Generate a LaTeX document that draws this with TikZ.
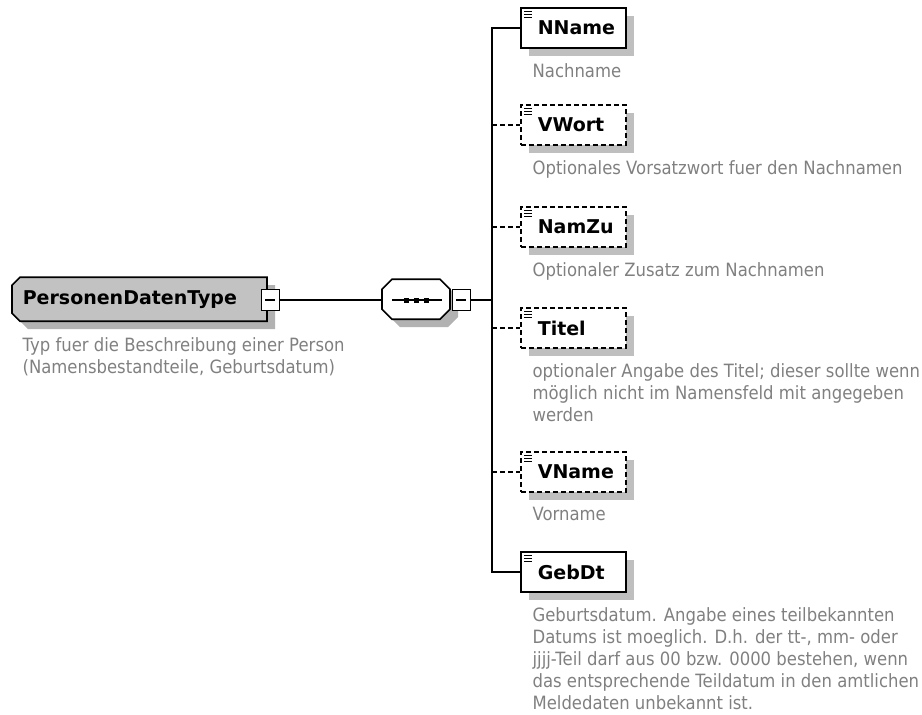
\documentclass[tikz,border=0pt]{standalone}
\usepackage{fontspec}
\setmainfont{DejaVu Sans}
\newfontfamily\docfont[FakeStretch=0.9]{DejaVu Sans}
\usetikzlibrary{positioning, shadows, backgrounds}

\begin{document}
\begin{tikzpicture}[x=1pt, y=-1pt]

\useasboundingbox (0,0) rectangle (922,715);

% styles
\pgfkeys{/tikz/every path/.style={line width=1.2pt}} % connectors
\pgfkeys{/box/.style={line width=1.6pt, inner sep=0, node font=\bfseries\fontsize{19}{22}\selectfont}} % base style for boxes
\pgfkeys{/shade/.style={drop shadow={shadow xshift=8pt, shadow yshift=-8pt, fill=black!25, opacity=1}}} % grey shadow
\pgfkeys{/elem/.style={/box, /shade, draw, rectangle, fill=white, anchor=west, minimum width=105pt, minimum height=40pt, text width=105pt, align=left, execute at begin node=\hspace*{17pt}}} % required element
\pgfkeys{/optelem/.style={/elem, dash pattern=on 5pt off 3pt}} % optional element
\pgfkeys{/elem link/.style={}} % branch to required element
\pgfkeys{/optelem link/.style={dash pattern=on 5pt off 3pt}} % branch to optional element
\pgfkeys{/ctype/.style={/box, rectangle, anchor=west, minimum width=255pt, minimum height=44pt, text width=235pt, inner xsep=10pt, align=left}} % complex type
\pgfkeys{/seqbox/.style={/box, rectangle, anchor=west, minimum width=68pt, minimum height=40pt}} % sequence
\pgfkeys{/frame/.style={draw, line width=1.6pt}} % outline of type and sequence
\pgfkeys{/shadowfill/.style={fill=black!30}} % shadow of type and sequence
\pgfkeys{/minus/.style={draw, line width=1.2pt, fill=white, rectangle, minimum width=18pt, minimum height=21pt, inner sep=0}} % collapse button
\pgfkeys{/doc/.style={anchor=north west, inner sep=0, align=left, text=black!50, node font=\docfont\fontsize{18.3}{22}\selectfont}} % annotation

% outlines with cut corners
\newcommand{\typeoutline}{++(8,0) -- ++(247,0) -- ++(0,44) -- ++(-247,0) -- ++(-8,-8) -- ++(0,-28) -- cycle}
\newcommand{\seqoutline}{++(10,0) -- ++(48,0) -- ++(10,10) -- ++(0,20) -- ++(-10,10) -- ++(-48,0) -- ++(-10,-10) -- ++(0,-20) -- cycle}

% complex type
\node[/ctype] (ptype) at (12,300) {PersonenDatenType};
\begin{scope}[on background layer]
\fill[/shadowfill] ([shift={(8,8)}]ptype.north west) \typeoutline;
\filldraw[/frame, fill=black!24] (ptype.north west) \typeoutline;
\end{scope}
\node[/minus] (typeminus) at ([xshift=1.5pt]ptype.east) {};
\draw ([xshift=-5pt]typeminus.center) -- ([xshift=5pt]typeminus.center);
\node[/doc, below=14pt of ptype.south west, anchor=north west, xshift=10pt] (docptype) {Typ fuer die Beschreibung einer Person\\(Namensbestandteile, Geburtsdatum)};

% sequence
\node[/seqbox] (seq) at (382,300) {};
\begin{scope}[on background layer]
\fill[/shadowfill] ([shift={(8,8)}]seq.north west) \seqoutline;
\filldraw[/frame, fill=white] (seq.north west) \seqoutline;
\end{scope}
\draw ([xshift=10pt]seq.west) -- ([xshift=-10pt]seq.east);
\foreach \dx in {-10,0,10} {
\fill ([xshift=\dx pt]seq.center) +(-2.5,-2.5) rectangle +(2.5,2.5);
}
\node[/minus, anchor=west] (seqminus) at (seq.east) {};
\draw ([xshift=-5pt]seqminus.center) -- ([xshift=5pt]seqminus.center);
\draw (typeminus) -- (seq);

% bar and elements
\coordinate (bmid) at (492,300);
\draw (seqminus) -- (bmid);
\foreach \name/\ypos/\kind in {NName/28/elem, VWort/125/optelem, NamZu/227/optelem, Titel/328/optelem, VName/472/optelem, GebDt/572/elem} {
\coordinate (b\name) at (492,\ypos); % branch on the bar
\node[/\kind] (\name) at (520,\ypos) {\name};
\draw[/\kind\space link] (b\name) -- (\name);
\foreach \dy in {4,7,10} \draw[line width=0.9pt] (\name.north west) ++(4,\dy) -- +(8,0); % element icon
}
\draw[line cap=rect] (bNName) -- (bGebDt);

% annotations
\foreach \name/\txt in {NName/{Nachname},
VWort/{Optionales Vorsatzwort fuer den Nachnamen},
NamZu/{Optionaler Zusatz zum Nachnamen},
Titel/{optionaler Angabe des Titel; dieser sollte wenn\\möglich nicht im Namensfeld mit angegeben\\werden},
VName/{Vorname},
GebDt/{Geburtsdatum. Angabe eines teilbekannten\\Datums ist moeglich. D.h. der tt-, mm- oder\\jjjj-Teil darf aus 00 bzw. 0000 bestehen, wenn\\das entsprechende Teildatum in den amtlichen\\Meldedaten unbekannt ist.}} {
\node[/doc, below=14pt of \name.south west, anchor=north west, xshift=12pt] (doc\name) {\txt};
}

\end{tikzpicture}
\end{document}
